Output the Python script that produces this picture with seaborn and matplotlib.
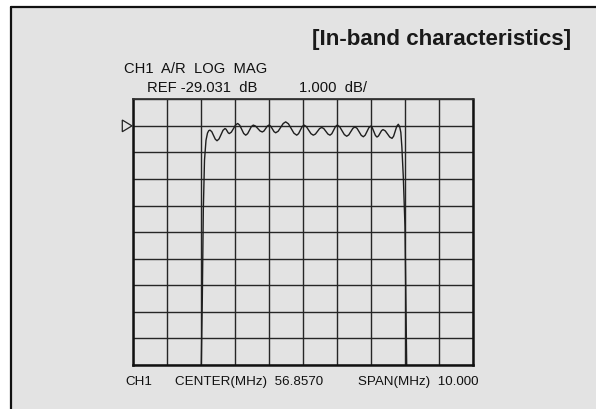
import matplotlib
matplotlib.use("Agg")
import matplotlib.pyplot as plt
from matplotlib.lines import Line2D
from matplotlib.patches import Rectangle, Polygon
import numpy as np
import pandas as pd
import seaborn as sns

# ---- data ----
center_mhz = 56.857
span_mhz = 10.0
ref_db = -29.031
db_per_div = 1.0

freq_mhz = [53.860, 53.895, 53.925, 53.960, 54.004, 54.048, 54.085, 54.122,
            54.174, 54.225, 54.277, 54.328,
            54.387, 54.446, 54.504, 54.563,
            54.595, 54.626, 54.658, 54.689,
            54.751, 54.813, 54.874, 54.936,
            54.995, 55.054, 55.113, 55.172,
            55.228, 55.284, 55.339, 55.395,
            55.461, 55.528, 55.594, 55.660,
            55.709, 55.759, 55.808, 55.857,
            55.906, 55.956, 56.005, 56.054,
            56.128, 56.201, 56.275, 56.348,
            56.429, 56.510, 56.591, 56.672,
            56.726, 56.779, 56.833, 56.886,
            56.955, 57.023, 57.092, 57.160,
            57.222, 57.284, 57.345, 57.407,
            57.468, 57.529, 57.590, 57.651,
            57.705, 57.759, 57.812, 57.866,
            57.935, 58.004, 58.073, 58.142,
            58.203, 58.264, 58.325, 58.386,
            58.447, 58.509, 58.570, 58.631,
            58.685, 58.740, 58.794, 58.848,
            58.894, 58.941, 58.987, 59.033,
            59.077, 59.122, 59.166, 59.210,
            59.276, 59.343, 59.409, 59.475,
            59.521, 59.568, 59.614, 59.660,
            59.700, 59.735, 59.765, 59.807, 59.857, 59.910]
rel_db = [-9.40, -6.55, -3.17, -1.29, -0.54, -0.27, -0.18, -0.16,
          -0.219, -0.360, -0.501, -0.56,
          -0.493, -0.330, -0.167, -0.10,
          -0.128, -0.195, -0.262, -0.29,
          -0.234, -0.100, 0.034, 0.09,
          0.026, -0.130, -0.286, -0.35,
          -0.294, -0.160, -0.026, 0.03,
          -0.008, -0.100, -0.192, -0.23,
          -0.192, -0.100, -0.008, 0.03,
          -0.012, -0.115, -0.218, -0.26,
          -0.200, -0.055, 0.090, 0.15,
          0.077, -0.100, -0.277, -0.35,
          -0.294, -0.160, -0.026, 0.03,
          -0.026, -0.160, -0.294, -0.35,
          -0.308, -0.205, -0.102, -0.06,
          -0.102, -0.205, -0.308, -0.35,
          -0.294, -0.160, -0.026, 0.03,
          -0.032, -0.180, -0.328, -0.39,
          -0.339, -0.215, -0.091, -0.04,
          -0.094, -0.225, -0.356, -0.41,
          -0.351, -0.210, -0.069, -0.01,
          -0.070, -0.215, -0.360, -0.42,
          -0.379, -0.280, -0.181, -0.14,
          -0.188, -0.305, -0.422, -0.47,
          -0.392, -0.205, -0.018, 0.06,
          -0.03, -0.25, -0.80, -1.92, -3.80, -9.40]

title_text = "[In-band characteristics]"
hdr1 = "CH1  A/R  LOG  MAG"
hdr2 = "REF -29.031  dB"
hdr3 = "1.000  dB/"
ftr1 = "CH1"
ftr2 = "CENTER(MHz)  56.8570"
ftr3 = "SPAN(MHz)  10.000"

df = pd.DataFrame({"freq": freq_mhz, "db": rel_db})

sns.set_theme(style="white")
plt.rcParams["font.family"] = ["Liberation Sans", "DejaVu Sans"]

W, H = 596, 409
fig = plt.figure(figsize=(W / 100, H / 100), dpi=100)
fig.patch.set_facecolor("white")

def fx(px):
    return px / W

def fy(py):
    return 1 - py / H

# panel background with left/top border
panel_bg = "#e3e3e3"
fig.patches.append(Rectangle((fx(11), 0), 1.0, fy(7), transform=fig.transFigure,
                             facecolor=panel_bg, edgecolor="none", zorder=-10))
fig.lines.append(Line2D([fx(11), fx(11)], [0, fy(7)], transform=fig.transFigure,
                        color="#111111", lw=1.6, zorder=-5))
fig.lines.append(Line2D([fx(11), 1.0], [fy(7), fy(7)], transform=fig.transFigure,
                        color="#111111", lw=1.6, zorder=-5))

ax = fig.add_axes([fx(133), fy(365), (473 - 133) / W, (365 - 99.3) / H])
ax.set_facecolor("none")
ax.set_zorder(5)

x0 = center_mhz - span_mhz / 2
x1 = center_mhz + span_mhz / 2
ax.set_xlim(x0, x1)
ax.set_ylim(-9 * db_per_div, 1 * db_per_div)
ax.set_xticks(np.linspace(x0, x1, 11))
ax.set_yticks(np.linspace(-9, 1, 11))
ax.tick_params(length=0, labelbottom=False, labelleft=False)
ax.grid(True, color="#262626", lw=1.0)
ax.set_axisbelow(True)
for side in ["left", "bottom", "right"]:
    ax.spines[side].set_visible(True)
    ax.spines[side].set_color("#111111")
    ax.spines[side].set_linewidth(1.8)
ax.spines["top"].set_visible(True)
ax.spines["top"].set_color("#333333")
ax.spines["top"].set_linewidth(1.3)

sns.lineplot(data=df, x="freq", y="db", ax=ax, color="#1e1e1e", lw=1.0,
             sort=False, estimator=None)
ax.set_xlabel("")
ax.set_ylabel("")

# reference marker triangle
tri = Polygon([(-0.0315, 0.922), (-0.0315, 0.878), (-0.003, 0.9)], closed=True,
              transform=ax.transAxes, facecolor="none", edgecolor="#222222",
              lw=0.9, clip_on=False)
ax.add_patch(tri)

fs_h = 10.6
fs_f = 9.6
fig.text(fx(312), fy(39), title_text, fontsize=16.1, fontweight="bold",
         ha="left", va="center", color="#1a1a1a")
fig.text(fx(124), fy(69), hdr1, fontsize=fs_h, ha="left", va="center", color="#111111")
fig.text(fx(147), fy(88), hdr2, fontsize=fs_h, ha="left", va="center", color="#111111")
fig.text(fx(299), fy(88), hdr3, fontsize=fs_h, ha="left", va="center", color="#111111")
fig.text(fx(125), fy(382), ftr1, fontsize=fs_f, ha="left", va="center", color="#111111")
fig.text(fx(175), fy(382), ftr2, fontsize=fs_f, ha="left", va="center", color="#111111")
fig.text(fx(358), fy(382), ftr3, fontsize=fs_f, ha="left", va="center", color="#111111")

fig.savefig("out.png", dpi=100, facecolor="white")
